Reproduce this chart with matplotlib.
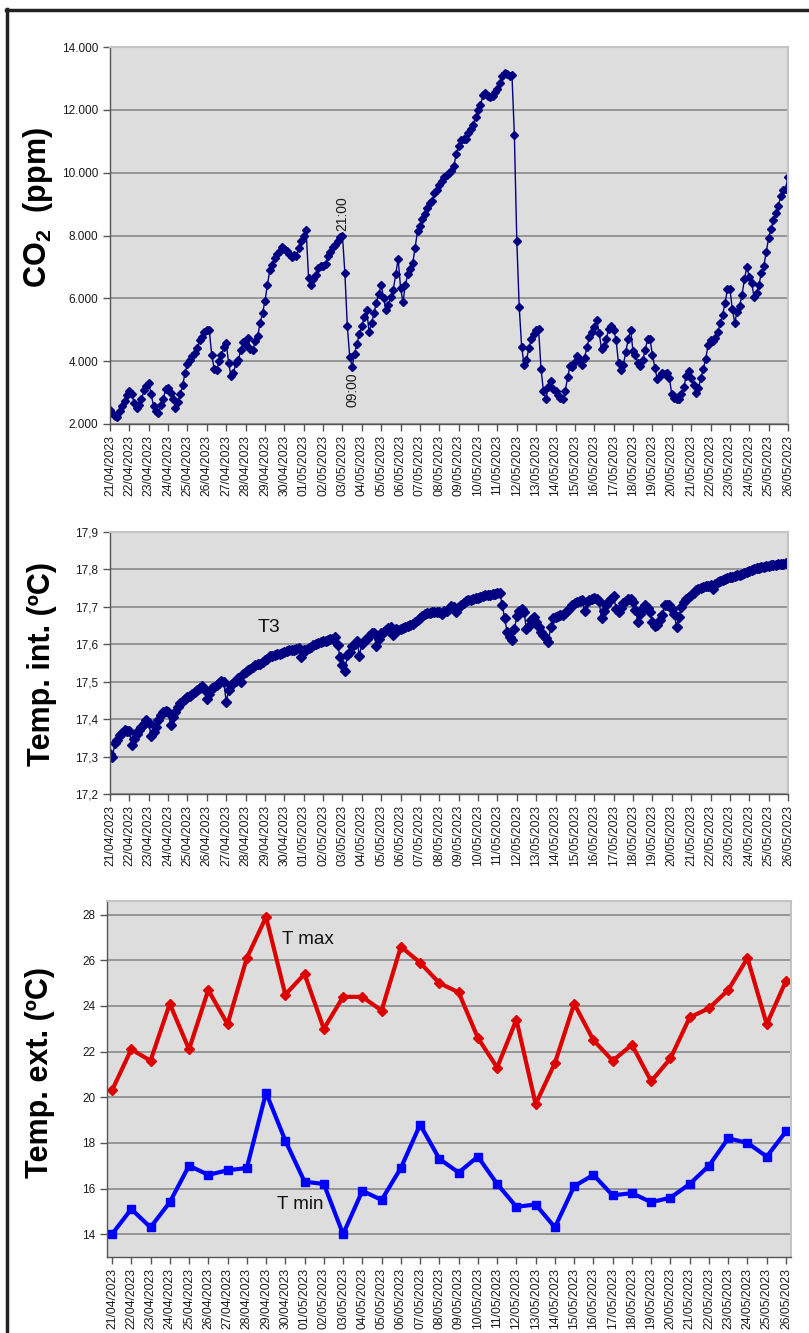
import numpy as np
import pandas as pd
import matplotlib
matplotlib.use('Agg')
import matplotlib.pyplot as plt
from matplotlib.ticker import FuncFormatter
from matplotlib.lines import Line2D

plt.rcParams['font.family'] = ['Liberation Sans', 'DejaVu Sans']
plt.rcParams['mathtext.fontset'] = 'custom'
plt.rcParams['mathtext.rm'] = 'Liberation Sans'
plt.rcParams['mathtext.bf'] = 'Liberation Sans:bold'

# date labels, one per day
dates = list(pd.date_range('2023-04-21', '2023-05-26').strftime('%d/%m/%Y'))

# CO2 (ppm), one reading every 3 hours from 21/04 00:00 to 26/05 00:00
co2 = [
    2440, 2350, 2270, 2230, 2410, 2570, 2730, 2910,
    3050, 2940, 2670, 2510, 2620, 2780, 3080, 3200,
    3310, 2940, 2570, 2410, 2350, 2590, 2800, 3120,
    3150, 2990, 2800, 2520, 2700, 2940, 3230, 3630,
    3920, 4050, 4180, 4270, 4420, 4660, 4760, 4920,
    5000, 4980, 4210, 3760, 3710, 4000, 4200, 4450,
    4580, 3930, 3520, 3630, 3930, 4030, 4350, 4610,
    4500, 4740, 4390, 4370, 4640, 4800, 5220, 5540,
    5910, 6430, 6890, 7070, 7280, 7400, 7500, 7640,
    7580, 7500, 7400, 7300, 7380, 7360, 7610, 7820,
    7980, 8170, 6650, 6410, 6600, 6730, 6970, 7040,
    7020, 7080, 7360, 7470, 7640, 7710, 7820, 7960,
    8000, 6800, 5130, 4140, 3820, 4240, 4560, 4880,
    5110, 5400, 5620, 4930, 5200, 5520, 5860, 6150,
    6410, 6020, 5620, 5800, 6050, 6280, 6760, 7260,
    6330, 5880, 6440, 6760, 6940, 7110, 7610, 8140,
    8300, 8510, 8700, 8880, 9040, 9090, 9340, 9440,
    9600, 9750, 9870, 9920, 9980, 10050, 10200, 10610,
    10860, 11050, 11080, 11080, 11250, 11400, 11530, 11780,
    11980, 12140, 12460, 12520, 12450, 12400, 12450, 12560,
    12650, 12860, 13090, 13180, 13150, 13090, 13120, 11190,
    7830, 5720, 4460, 3890, 4030, 4420, 4710, 4880,
    4980, 5010, 3760, 3050, 2780, 3180, 3360, 3100,
    3050, 2910, 2830, 2780, 3050, 3490, 3860, 3800,
    3970, 4160, 4050, 3890, 4110, 4460, 4760, 4920,
    5090, 5300, 4900, 4390, 4480, 4720, 5030, 5110,
    5000, 4680, 3930, 3730, 3890, 4290, 4690, 4990,
    4320, 4210, 3930, 3840, 4030, 4350, 4690, 4690,
    4210, 3790, 3440, 3540, 3630, 3580, 3630, 3470,
    2950, 2820, 2790, 2800, 2960, 3190, 3530, 3700,
    3480, 3240, 2980, 3140, 3450, 3750, 4070, 4520,
    4680, 4630, 4740, 4930, 5210, 5480, 5850, 6290,
    6310, 5650, 5230, 5580, 5760, 6110, 6600, 7000,
    6690, 6500, 6030, 6160, 6430, 6820, 7030, 7460,
    7930, 8220, 8480, 8730, 8930, 9250, 9440, 9480,
    9870,
]

# interior temperature T3 (ºC), same 3-hour steps
t3 = [
    17.308, 17.300, 17.335, 17.345, 17.357, 17.362, 17.370, 17.368,
    17.369, 17.330, 17.348, 17.360, 17.370, 17.380, 17.388, 17.397,
    17.390, 17.354, 17.365, 17.380, 17.397, 17.410, 17.420, 17.422,
    17.420, 17.385, 17.406, 17.420, 17.433, 17.442, 17.449, 17.455,
    17.458, 17.463, 17.468, 17.473, 17.477, 17.483, 17.488, 17.480,
    17.455, 17.468, 17.482, 17.487, 17.490, 17.496, 17.502, 17.500,
    17.446, 17.477, 17.490, 17.497, 17.503, 17.510, 17.500, 17.520,
    17.526, 17.530, 17.535, 17.540, 17.544, 17.546, 17.548, 17.553,
    17.557, 17.562, 17.568, 17.570, 17.571, 17.573, 17.575, 17.578,
    17.580, 17.582, 17.584, 17.585, 17.586, 17.588, 17.589, 17.565,
    17.584, 17.586, 17.589, 17.593, 17.597, 17.600, 17.604, 17.606,
    17.609, 17.610, 17.612, 17.614, 17.615, 17.620, 17.597, 17.566,
    17.544, 17.528, 17.571, 17.580, 17.595, 17.602, 17.609, 17.570,
    17.600, 17.608, 17.615, 17.622, 17.629, 17.630, 17.595, 17.615,
    17.629, 17.634, 17.639, 17.643, 17.646, 17.625, 17.640, 17.638,
    17.640, 17.643, 17.646, 17.649, 17.651, 17.655, 17.660, 17.665,
    17.669, 17.676, 17.682, 17.683, 17.684, 17.685, 17.685, 17.686,
    17.686, 17.680, 17.688, 17.689, 17.695, 17.702, 17.700, 17.685,
    17.700, 17.706, 17.710, 17.715, 17.717, 17.719, 17.720, 17.723,
    17.725, 17.727, 17.729, 17.731, 17.732, 17.733, 17.734, 17.735,
    17.736, 17.737, 17.704, 17.669, 17.633, 17.620, 17.611, 17.640,
    17.675, 17.690, 17.695, 17.685, 17.640, 17.648, 17.665, 17.673,
    17.660, 17.645, 17.633, 17.625, 17.618, 17.606, 17.646, 17.669,
    17.672, 17.675, 17.677, 17.678, 17.684, 17.691, 17.697, 17.704,
    17.709, 17.713, 17.716, 17.718, 17.690, 17.712, 17.718, 17.722,
    17.725, 17.722, 17.715, 17.669, 17.690, 17.704, 17.715, 17.722,
    17.728, 17.695, 17.686, 17.698, 17.709, 17.716, 17.722, 17.720,
    17.712, 17.691, 17.660, 17.680, 17.697, 17.704, 17.698, 17.685,
    17.660, 17.648, 17.651, 17.665, 17.678, 17.704, 17.706, 17.704,
    17.695, 17.682, 17.646, 17.673, 17.700, 17.712, 17.720, 17.726,
    17.732, 17.738, 17.744, 17.748, 17.751, 17.753, 17.755, 17.757,
    17.758, 17.747, 17.762, 17.767, 17.769, 17.772, 17.774, 17.777,
    17.779, 17.781, 17.783, 17.785, 17.786, 17.788, 17.791, 17.794,
    17.797, 17.799, 17.801, 17.803, 17.805, 17.806, 17.807, 17.809,
    17.810, 17.811, 17.812, 17.813, 17.814, 17.815, 17.815, 17.816,
    17.816,
]

# daily exterior temperatures (ºC)
t_max = [20.3, 22.1, 21.6, 24.1, 22.1, 24.7, 23.2, 26.1, 27.9, 24.5,
         25.4, 23.0, 24.4, 24.4, 23.8, 26.6, 25.9, 25.0, 24.6, 22.6,
         21.3, 23.4, 19.7, 21.5, 24.1, 22.5, 21.6, 22.3, 20.7, 21.7,
         23.5, 23.9, 24.7, 26.1, 23.2, 25.1]
t_min = [14.0, 15.1, 14.3, 15.4, 17.0, 16.6, 16.8, 16.9, 20.2, 18.1,
         16.3, 16.2, 14.0, 15.9, 15.5, 16.9, 18.8, 17.3, 16.7, 17.4,
         16.2, 15.2, 15.3, 14.3, 16.1, 16.6, 15.7, 15.8, 15.4, 15.6,
         16.2, 17.0, 18.2, 18.0, 17.4, 18.5]

W, H = 809, 1333
fig = plt.figure(figsize=(W / 100, H / 100), dpi=100)
fig.patch.set_facecolor('white')


def box(l, t, r, b):
    return [l / W, 1 - b / H, (r - l) / W, (b - t) / H]


def style(ax):
    ax.set_facecolor('#DDDDDD')
    ax.set_axisbelow(True)
    ax.yaxis.grid(True, color='#8A8A8A', lw=1.2)
    for s in ['top', 'right']:
        ax.spines[s].set_color('#C4C4C4')
        ax.spines[s].set_linewidth(1.5)
    for s in ['left', 'bottom']:
        ax.spines[s].set_color('#555555')
        ax.spines[s].set_linewidth(1.0)
    ax.set_xticks(range(len(dates)))
    ax.set_xticklabels(dates, rotation=90, fontsize=8.8, color='#1A1A1A')
    ax.tick_params(axis='both', direction='out', length=5, width=1,
                   color='#555555', labelcolor='#1A1A1A')
    ax.tick_params(axis='y', labelsize=8.5)
    ax.tick_params(axis='x', pad=3)


navy = '#000080'
x3h = np.arange(len(co2)) / 8.0

# CO2 panel
ax1 = fig.add_axes(box(110, 47, 788, 424))
style(ax1)
ax1.plot(x3h, co2, color=navy, lw=1, marker='D', ms=4.2, mec=navy, mfc=navy)
ax1.set_xlim(0, 35)
ax1.set_ylim(2000, 14000)
ax1.set_yticks(range(2000, 14001, 2000))
ax1.yaxis.set_major_formatter(FuncFormatter(lambda v, p: f"{v:,.0f}".replace(',', '.')))
ax1.annotate('21:00', (12, 8000), xytext=(0, 3), textcoords='offset points',
             rotation=90, ha='center', va='bottom', fontsize=10, color='#1A1A1A')
ax1.annotate('09:00', (12.5, 3820), xytext=(0, -4), textcoords='offset points',
             rotation=90, ha='center', va='top', fontsize=10, color='#1A1A1A')
fig.text(38 / W, 1 - 208 / H, r'CO$_\mathbf{2}$  (ppm)', rotation=90, ha='center',
         va='center', fontsize=22, fontweight='bold')

# interior temperature panel
ax2 = fig.add_axes(box(110, 532, 788, 794))
style(ax2)
ax2.plot(np.arange(len(t3)) / 8.0, t3, color=navy, lw=1, marker='D', ms=4.6,
         mec=navy, mfc=navy)
ax2.set_xlim(0, 35)
ax2.set_ylim(17.2, 17.9)
ax2.set_yticks(np.arange(17.2, 17.91, 0.1))
ax2.yaxis.set_major_formatter(FuncFormatter(lambda v, p: f"{v:.1f}".replace('.', ',')))
ax2.text(7.64, 17.645, 'T3', fontsize=14, ha='left', va='center', color='#111111')
fig.text(42 / W, 1 - 664 / H, 'Temp. int. (ºC)', rotation=90, ha='center',
         va='center', fontsize=22, fontweight='bold')

# exterior temperature panel
ax3 = fig.add_axes(box(107, 901, 791, 1257))
style(ax3)
days = np.arange(len(t_max))
ax3.plot(days, t_max, color='#DD0000', lw=3, marker='D', ms=5.5, mec='#DD0000', mfc='#DD0000')
ax3.plot(days, t_min, color='#0000FF', lw=3, marker='s', ms=6, mec='#0000FF', mfc='#0000FF')
ax3.set_xlim(-0.26, 35.26)
ax3.set_ylim(13, 28.6)
ax3.set_yticks(range(14, 29, 2))
ax3.text(8.83, 26.9, 'T max', fontsize=13.5, ha='left', va='center', color='#111111')
ax3.text(8.57, 15.3, 'T min', fontsize=13.5, ha='left', va='center', color='#111111')
fig.text(40 / W, 1 - 1072 / H, 'Temp. ext. (ºC)', rotation=90, ha='center',
         va='center', fontsize=22, fontweight='bold')

# outer frame (top and left edges)
fig.add_artist(Line2D([6 / W, 1.0], [1 - 10 / H, 1 - 10 / H], color='#222222', lw=2.5))
fig.add_artist(Line2D([7 / W, 7 / W], [0.0, 1 - 9 / H], color='#222222', lw=2.5))

fig.savefig('out.png', dpi=100)
